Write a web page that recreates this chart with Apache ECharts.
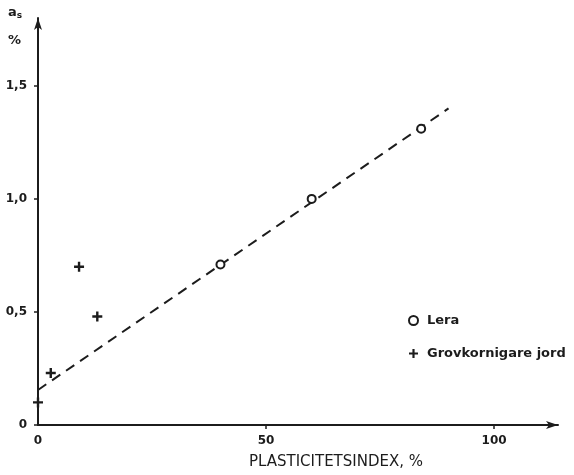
<!DOCTYPE html>
<html>
<head>
<meta charset="utf-8">
<script src="https://cdn.jsdelivr.net/npm/echarts@6/dist/echarts.min.js"></script>
<style>
  html, body { margin: 0; padding: 0; background: #fff; }
  #chart { width: 574px; height: 475px; }
</style>
</head>
<body>
<div id="chart"></div>
<script>
// Plasticity index (%) against a_s (%)
const leraX = [40, 60, 84];
const leraY = [0.71, 1.0, 1.31];

const grovX = [0, 2.8, 9, 13];
const grovY = [0.10, 0.23, 0.70, 0.48];

const trendX = [0, 90];
const trendY = [0.155, 1.40];

const xTicks = [0, 50, 100];
const yTicks = [0, 0.5, 1.0, 1.5];

const ink = '#1c1c1c';
const labelFont = '"DejaVu Sans", sans-serif';

const crossPath = 'path://M3.8,0H6.2V3.8H10V6.2H6.2V10H3.8V6.2H0V3.8H3.8Z';

function pairs(xs, ys) {
  return xs.map((x, i) => [x, ys[i]]);
}

const chart = echarts.init(document.getElementById('chart'), null, { renderer: 'canvas' });

chart.setOption({
  backgroundColor: '#ffffff',
  animation: false,
  grid: { left: 38, right: 16, top: 18, bottom: 47, containLabel: false },
  xAxis: {
    type: 'value',
    min: 0,
    max: 114,
    interval: 50,
    splitLine: { show: false },
    axisLine: {
      lineStyle: { color: ink, width: 2 },
      symbol: ['none', 'arrow'],
      symbolSize: [6, 12]
    },
    axisTick: {
      show: true,
      length: 4,
      inside: false,
      customValues: xTicks.slice(1),
      lineStyle: { color: ink, width: 1.5 }
    },
    axisLabel: {
      customValues: xTicks,
      formatter: v => String(v),
      color: ink,
      fontFamily: labelFont,
      fontWeight: 'bold',
      fontSize: 12,
      margin: 10
    },
    name: 'PLASTICITETSINDEX, %',
    nameLocation: 'middle',
    nameGap: 30,
    nameTextStyle: {
      color: ink,
      fontFamily: labelFont,
      fontSize: 15,
      padding: [0, 0, 0, 76]
    }
  },
  yAxis: {
    type: 'value',
    min: 0,
    max: 1.8,
    interval: 0.5,
    splitLine: { show: false },
    axisLine: {
      lineStyle: { color: ink, width: 2 },
      symbol: ['none', 'arrow'],
      symbolSize: [6, 12]
    },
    axisTick: {
      show: true,
      length: 4,
      customValues: yTicks,
      lineStyle: { color: ink, width: 1.5 }
    },
    axisLabel: {
      customValues: yTicks,
      formatter: v => (v === 0 ? '0' : v.toFixed(1).replace('.', ',')),
      color: ink,
      fontFamily: labelFont,
      fontWeight: 'bold',
      fontSize: 12,
      margin: 11
    }
  },
  legend: {
    orient: 'vertical',
    left: 403,
    top: 309,
    itemGap: 20,
    itemWidth: 9,
    itemHeight: 9,
    textStyle: {
      color: ink,
      fontFamily: labelFont,
      fontSize: 13,
      fontWeight: 'bold',
      padding: [0, 0, 0, 4]
    },
    data: [
      {
        name: 'Lera',
        icon: 'circle',
        itemStyle: { color: '#ffffff', borderColor: ink, borderWidth: 2 }
      },
      { name: 'Grovkornigare jord', icon: crossPath }
    ]
  },
  graphic: [
    {
      type: 'text',
      left: 8,
      top: 6,
      style: {
        text: '{a|a}{s|s}',
        rich: {
          a: { fontFamily: labelFont, fontWeight: 'bold', fontSize: 13, fill: ink },
          s: { fontFamily: labelFont, fontWeight: 'bold', fontSize: 9, fill: ink, padding: [6, 0, 0, 0] }
        }
      }
    },
    {
      type: 'text',
      left: 8,
      top: 34,
      style: { text: '%', fontFamily: labelFont, fontWeight: 'bold', fontSize: 13, fill: ink }
    }
  ],
  series: [
    {
      name: 'trend',
      type: 'line',
      data: pairs(trendX, trendY),
      symbol: 'none',
      silent: true,
      lineStyle: { color: ink, width: 2, type: [10, 7] },
      z: 1
    },
    {
      name: 'Lera',
      type: 'scatter',
      data: pairs(leraX, leraY),
      symbol: 'circle',
      symbolSize: 8,
      itemStyle: { color: '#ffffff', borderColor: ink, borderWidth: 2, opacity: 1 },
      z: 3
    },
    {
      name: 'Grovkornigare jord',
      type: 'scatter',
      data: pairs(grovX, grovY),
      symbol: crossPath,
      symbolSize: 10,
      itemStyle: { color: ink, opacity: 1 },
      z: 3
    }
  ]
});
</script>
</body>
</html>
